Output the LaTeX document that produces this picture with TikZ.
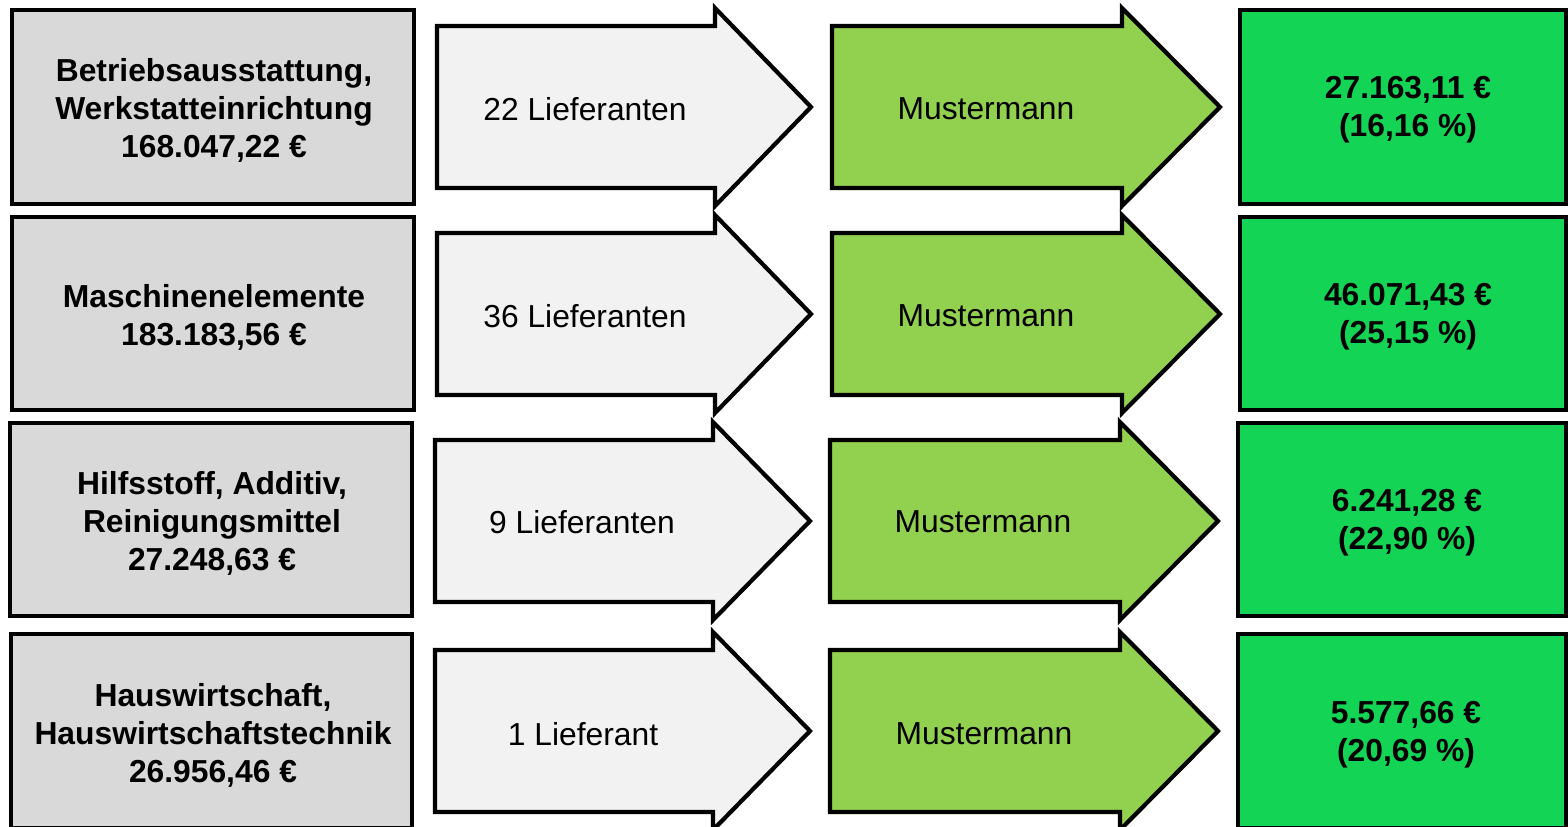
\documentclass[tikz,border=0pt]{standalone}
\usepackage{fontspec}
\setmainfont{Liberation Sans}
\definecolor{catgray}{HTML}{D9D9D9}
\definecolor{supgray}{HTML}{F2F2F2}
\definecolor{arrgreen}{HTML}{92D050}
\definecolor{resgreen}{HTML}{13D455}
\tikzset{
  outl/.style={draw=black, line width=2.1pt},
  catbox/.style={outl, fill=catgray},
  supshape/.style={outl, fill=supgray},
  musshape/.style={outl, fill=arrgreen},
  resbox/.style={outl, fill=resgreen},
  boldtxt/.style={align=center, font=\fontsize{15.9}{19}\selectfont\bfseries, inner sep=0pt},
  plaintxt/.style={align=center, font=\fontsize{15.9}{19}\selectfont, inner sep=0pt},
}
% arrow: #1 left x, #2 head base x, #3 tip x, #4 center y
\newcommand{\arrowpath}[4]{(#1,#4-81) -- (#2,#4-81) -- (#2,#4-99) -- (#3,#4) -- (#2,#4+99) -- (#2,#4+81) -- (#1,#4+81) -- cycle}
\begin{document}
\begin{tikzpicture}[x=0.5pt,y=-0.5pt]
\useasboundingbox (0,0) rectangle (1568,826);
\clip (0,0) rectangle (1568,826);
% row 1
\draw[catbox] (12,10) rectangle (414,204);
\node[boldtxt] (c1) at (214,110) {Betriebsausstattung,\\Werkstatteinrichtung\\168.047,22 €};
\draw[supshape] \arrowpath{437}{715}{811}{107};
\node[plaintxt] (s1) at (585,109) {22 Lieferanten};
\draw[musshape] \arrowpath{832}{1122}{1220}{107};
\node[plaintxt] (m1) at (986,109) {Mustermann};
\draw[resbox] (1240,10) rectangle (1566,204);
\node[boldtxt] (r1) at (1408,110) {27.163,11 €\\(16,16 \%)};
% row 2
\draw[catbox] (12,217) rectangle (414,410);
\node[boldtxt] (c2) at (214,317) {Maschinenelemente\\183.183,56 €};
\draw[supshape] \arrowpath{437}{715}{811}{314};
\node[plaintxt] (s2) at (585,316) {36 Lieferanten};
\draw[musshape] \arrowpath{832}{1122}{1220}{314};
\node[plaintxt] (m2) at (986,316) {Mustermann};
\draw[resbox] (1240,217) rectangle (1566,410);
\node[boldtxt] (r2) at (1408,317) {46.071,43 €\\(25,15 \%)};
% row 3
\draw[catbox] (10,423) rectangle (412,616);
\node[boldtxt] (c3) at (212,523) {Hilfsstoff, Additiv,\\Reinigungsmittel\\27.248,63 €};
\draw[supshape] \arrowpath{435}{713}{810}{521};
\node[plaintxt] (s3) at (582,522) {9 Lieferanten};
\draw[musshape] \arrowpath{830}{1120}{1218}{521};
\node[plaintxt] (m3) at (983,522) {Mustermann};
\draw[resbox] (1238,423) rectangle (1566,616);
\node[boldtxt] (r3) at (1407,523) {6.241,28 €\\(22,90 \%)};
% row 4
\draw[catbox] (11,634) rectangle (412,828);
\node[boldtxt] (c4) at (213,735) {Hauswirtschaft,\\Hauswirtschaftstechnik\\26.956,46 €};
\draw[supshape] \arrowpath{435}{713}{810}{731};
\node[plaintxt] (s4) at (583,734) {1 Lieferant};
\draw[musshape] \arrowpath{830}{1120}{1218}{731};
\node[plaintxt] (m4) at (984,734) {Mustermann};
\draw[resbox] (1238,634) rectangle (1566,828);
\node[boldtxt] (r4) at (1406,735) {5.577,66 €\\(20,69 \%)};
\end{tikzpicture}
\end{document}
